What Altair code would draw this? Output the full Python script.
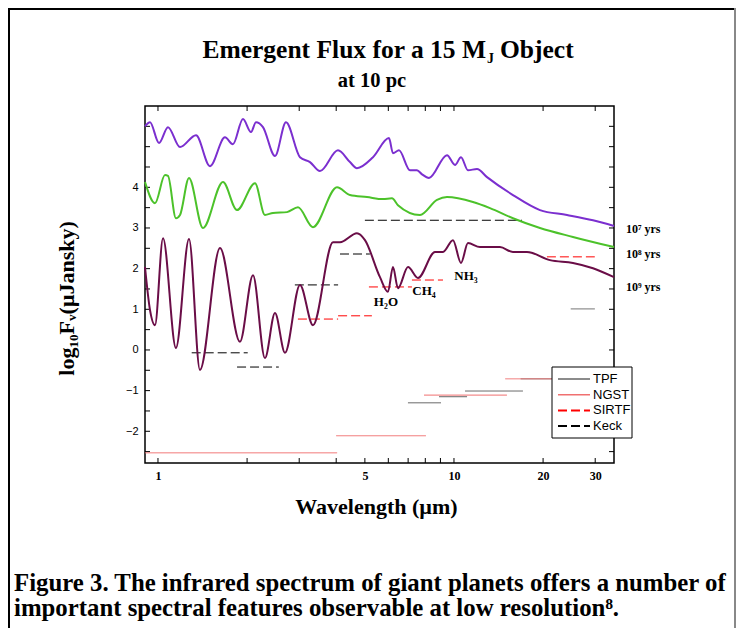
import altair as alt
import pandas as pd

# ---------------- data ----------------
# 10^7 yr model (purple)
wl_7 = [0.904, 0.940, 1.008, 1.081, 1.187, 1.344, 1.499, 1.684, 1.792, 1.937, 2.062, 2.143, 2.263, 2.485,
        2.707, 3.018, 3.262, 3.526, 4.056, 4.453, 4.702, 5.326, 6.031, 6.221, 6.519, 7.103, 7.499, 7.797,
        8.234, 9.471, 10.08, 10.56, 11.15, 11.96, 12.93, 15.82, 19.52, 24.09, 29.49, 34.72]
f_7 = [5.50, 5.60, 5.09, 5.48, 4.99, 5.28, 4.52, 5.23, 5.06, 5.68, 5.36, 5.60, 5.48, 4.77,
       5.60, 4.74, 4.62, 4.40, 4.91, 4.62, 4.47, 4.74, 5.21, 4.84, 4.91, 4.42, 4.42, 4.32,
       4.23, 4.79, 4.55, 4.74, 4.42, 4.45, 4.25, 3.81, 3.44, 3.32, 3.19, 3.05]

# 10^8 yr model (green)
wl_8 = [0.904, 0.977, 1.056, 1.081, 1.150, 1.187, 1.273, 1.419, 1.658, 1.849, 2.127, 2.298, 2.446, 2.729,
        2.972, 3.339, 4.025, 4.453, 5.083, 5.756, 6.173, 6.468, 7.677, 8.762, 9.471, 11.59, 13.23, 15.82,
        19.52, 25.23, 34.72]
f_8 = [4.13, 3.61, 4.30, 4.28, 3.24, 3.32, 4.23, 3.00, 4.13, 3.44, 4.10, 3.32, 3.37, 3.39,
       3.51, 3.02, 4.00, 3.81, 3.76, 3.71, 3.73, 3.56, 3.32, 3.69, 3.76, 3.64, 3.49, 3.24,
       3.00, 2.78, 2.53]

# 10^9 yr model (maroon)
wl_9 = [0.904, 0.940, 0.977, 1.040, 1.150, 1.273, 1.386, 1.620, 1.892, 2.094, 2.298, 2.485, 2.686, 3.018,
        3.339, 3.902, 4.120, 4.702, 5.004, 5.623, 5.984, 6.221, 6.468, 6.993, 7.558, 8.627, 9.182, 9.923,
        10.56, 11.15, 12.24, 14.30, 15.82, 17.64, 21.10, 25.23, 29.49, 34.72]
f_9 = [2.04, 0.98, 0.61, 2.75, 0.05, 2.73, -0.49, 2.51, 0.20, 1.84, -0.20, 0.91, -0.07, 1.60,
       0.61, 2.65, 2.65, 2.87, 2.70, 1.79, 1.43, 2.04, 1.52, 2.04, 1.77, 2.41, 2.41, 2.70,
       2.14, 2.63, 2.53, 2.53, 2.41, 2.41, 2.21, 2.14, 2.01, 1.79]

# instrument sensitivity segments
seg_inst = ["TPF", "TPF", "TPF", "TPF", "TPF",
            "NGST", "NGST", "NGST", "NGST",
            "SIRTF", "SIRTF", "SIRTF", "SIRTF", "SIRTF",
            "Keck", "Keck", "Keck", "Keck", "Keck"]
seg_start = [6.99, 8.90, 10.9, 16.8, 24.8,
             0.905, 4.00, 7.92, 14.9,
             2.97, 4.06, 5.16, 7.21, 20.6,
             1.30, 1.85, 2.90, 4.12, 5.00]
seg_end = [9.04, 11.07, 17.1, 21.4, 29.9,
           4.03, 8.04, 15.1, 21.4,
           4.06, 5.28, 7.21, 9.18, 29.9,
           2.01, 2.56, 4.06, 5.20, 16.97]
seg_val = [-1.30, -1.15, -1.01, -0.71, 1.01,
           -2.53, -2.11, -1.11, -0.71,
           0.76, 0.84, 1.55, 1.72, 2.29,
           -0.07, -0.42, 1.60, 2.36, 3.19]

inst_names = ["TPF", "NGST", "SIRTF", "Keck"]
inst_colors = ["#666666", "#f07070", "#ff0000", "#000000"]
inst_dash = [[1, 0], [1, 0], [9, 4], [9, 4]]
inst_width = [1, 1, 2, 2]

# annotations
feat_labels = ["H₂O", "CH₄", "NH₃"]
feat_wl = [5.89, 7.92, 10.98]
feat_f = [1.08, 1.35, 1.72]

age_labels = ["10⁷ yrs", "10⁸ yrs", "10⁹ yrs"]
age_wl = [38.1, 38.1, 38.1]
age_f = [2.87, 2.26, 1.45]

x_ticks = [1, 2, 3, 4, 5, 6, 7, 8, 9, 10, 20, 30]
x_labels = [1, 5, 10, 20, 30]
y_ticks = [-2.5, -2.0, -1.5, -1.0, -0.5, 0.0, 0.5, 1.0, 1.5, 2.0, 2.5, 3.0, 3.5, 4.0, 4.5, 5.0, 5.5]
y_labels = [-2, -1, 0, 1, 2, 3, 4]

caption_lines = ["Figure 3. The infrared spectrum of giant planets offers a number of",
                 "important spectral features observable at low resolution⁸."]

# ---------------- chart ----------------
W, H = 469, 357
SERIF = "Liberation Serif"
SANS = "Liberation Sans"

xscale = alt.Scale(type="log", domain=[0.904, 34.72], nice=False)
yscale = alt.Scale(domain=[-2.78, 6.0], nice=False, zero=False)

xaxis = alt.Axis(values=x_labels, format="d", ticks=False, domain=False, grid=False,
                 labelFont=SERIF, labelFontWeight="bold", labelFontSize=12, labelPadding=7,
                 labelColor="black",
                 titleFont=SERIF, titleFontWeight="bold", titleFontSize=22, titleColor="black",
                 titleX=231, titleY=50, titleBaseline="alphabetic")
yaxis = alt.Axis(values=y_labels, ticks=False, domain=False, grid=False,
                 labelFont=SANS, labelFontSize=11, labelPadding=7, labelColor="black",
                 titleFont=SERIF, titleFontWeight="bold", titleFontSize=22, titleColor="black",
                 titleX=-67, titleY=192, titleBaseline="bottom", titleAlign="center")

XT = "Wavelength (µm)"
YT = "log₁₀Fᵥ(μJansky)"


def X(field="wl"):
    return alt.X(f"{field}:Q", scale=xscale, axis=xaxis, title=XT)


def Y(field="f"):
    return alt.Y(f"{field}:Q", scale=yscale, axis=yaxis, title=YT)


def curve(wl, f, color):
    df = pd.DataFrame({"wl": wl, "f": f})
    return alt.Chart(df).mark_line(color=color, strokeWidth=2, interpolate="monotone").encode(x=X(), y=Y())


c7 = curve(wl_7, f_7, "#7b2fcf")
c8 = curve(wl_8, f_8, "#4cc22a")
c9 = curve(wl_9, f_9, "#6a0d47")

seg_df = pd.DataFrame({"inst": seg_inst, "wl": seg_start, "wl2": seg_end, "f": seg_val})
segs = alt.Chart(seg_df).mark_rule().encode(
    x=X(), x2=alt.X2("wl2:Q"), y=Y(),
    color=alt.Color("inst:N", scale=alt.Scale(domain=inst_names, range=inst_colors), legend=None),
    strokeDash=alt.StrokeDash("inst:N", scale=alt.Scale(domain=inst_names, range=inst_dash), legend=None),
    strokeWidth=alt.StrokeWidth("inst:N", scale=alt.Scale(domain=inst_names, range=inst_width), legend=None),
)

feat_df = pd.DataFrame({"wl": feat_wl, "f": feat_f, "label": feat_labels})
feats = alt.Chart(feat_df).mark_text(font=SERIF, fontWeight="bold", fontSize=13, baseline="alphabetic",
                                     align="center", color="black").encode(x=X(), y=Y(), text="label:N")

age_df = pd.DataFrame({"wl": age_wl, "f": age_f, "label": age_labels})
ages = alt.Chart(age_df).mark_text(font=SERIF, fontWeight="bold", fontSize=12, baseline="alphabetic",
                                   align="left", color="black").encode(x=X(), y=Y(), text="label:N")

# inward ticks on all four sides
xt_df = pd.DataFrame({"wl": x_ticks})
yt_df = pd.DataFrame({"f": y_ticks})
tick_bottom = alt.Chart(xt_df).mark_rule(color="black", strokeWidth=1).encode(
    x=X(), y=alt.value(H), y2=alt.value(H - 5))
tick_top = alt.Chart(xt_df).mark_rule(color="black", strokeWidth=1).encode(
    x=X(), y=alt.value(0), y2=alt.value(5))
tick_left = alt.Chart(yt_df).mark_rule(color="black", strokeWidth=1).encode(
    y=Y(), x=alt.value(0), x2=alt.value(5))
tick_right = alt.Chart(yt_df).mark_rule(color="black", strokeWidth=1).encode(
    y=Y(), x=alt.value(W), x2=alt.value(W - 5))

one = pd.DataFrame({"a": [0]})


def txt(text, x, y, size, align="left", weight="bold", font=SERIF, baseline="alphabetic", **kw):
    return alt.Chart(one).mark_text(font=font, fontWeight=weight, fontSize=size, align=align,
                                    baseline=baseline, color="black", **kw).encode(
        x=alt.value(x), y=alt.value(y), text=alt.value(text))


title_a = txt("Emergent Flux for a 15 M", 341, -48, 25.5, align="right")
title_j = txt("J", 342, -43, 14)
title_b = txt("Object", 355, -48, 25.5)
subtitle = txt("at 10 pc", 227, -19, 20.5, align="center")
caption = txt(caption_lines, -131, 485, 24.8, lineHeight=25)

# legend (drawn by hand: box, line samples, labels)
LX, LY, LW, LH = 407, 261, 80, 71
legend_box = alt.Chart(one).mark_rect(fill="white", stroke="black", strokeWidth=1).encode(
    x=alt.value(LX), x2=alt.value(LX + LW), y=alt.value(LY), y2=alt.value(LY + LH))
legend_layers = [legend_box]
for i, name in enumerate(inst_names):
    yy = LY + 12 + 15.7 * i
    legend_layers.append(
        alt.Chart(one).mark_rule(color=inst_colors[i], strokeDash=inst_dash[i],
                                 strokeWidth=max(inst_width[i], 1.5)).encode(
            x=alt.value(LX + 6), x2=alt.value(LX + 38), y=alt.value(yy)))
    legend_layers.append(txt(name, LX + 41, yy, 13, weight="normal", font=SANS, baseline="middle"))

# outer figure frame
frame_left = alt.Chart(one).mark_rule(color="black", strokeWidth=2).encode(
    x=alt.value(-136), y=alt.value(-98), y2=alt.value(H + 165))
frame_top = alt.Chart(one).mark_rule(color="black", strokeWidth=2).encode(
    x=alt.value(-137), x2=alt.value(591), y=alt.value(-97))
frame_right = alt.Chart(one).mark_rule(color="#888888", strokeWidth=2).encode(
    x=alt.value(590), y=alt.value(-98), y2=alt.value(H + 165))

chart = alt.layer(
    tick_bottom, tick_top, tick_left, tick_right,
    segs, c7, c8, c9, feats, ages,
    *legend_layers,
    title_a, title_j, title_b, subtitle, caption,
    frame_left, frame_top, frame_right,
).properties(
    width=W, height=H,
    padding={"left": 137, "top": 98, "right": 122, "bottom": 165},
    autosize=alt.AutoSizeParams(type="none"),
    background="white",
).configure_view(
    stroke="black", strokeWidth=1.5
)

chart.save("out.html", embed_options={"renderer": "svg", "actions": False})
